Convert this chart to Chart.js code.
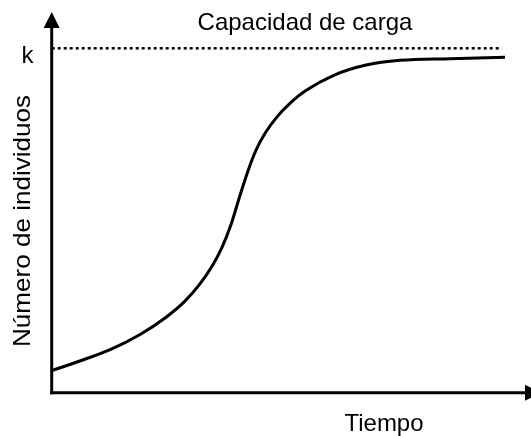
<!DOCTYPE html>
<html>
<head>
<meta charset="utf-8">
<script src="https://cdn.jsdelivr.net/npm/chart.js@4.4.1/dist/chart.umd.min.js"></script>
<style>
  body { margin: 0; background: #fff; }
  #wrap { width: 531px; height: 436px; }
</style>
</head>
<body>
<div id="wrap"><canvas id="myChart"></canvas></div>
<script>
// curva logistica (tiempo 0..10, individuos 0..100, k = 100)
const tiempo = [0, 0.62, 1.29, 1.95, 2.50, 2.94, 3.27, 3.54, 3.76, 3.96, 4.15, 4.33, 4.51, 4.71, 4.97, 5.26, 5.59, 6.21, 6.96, 7.68, 8.79, 10];
const individuos = [6.4, 9.2, 12.5, 16.9, 21.7, 26.6, 31.6, 36.8, 42.3, 49.0, 57.1, 64.4, 70.5, 75.4, 80.1, 84.1, 87.6, 92.1, 95.2, 96.5, 97.0, 97.4];
const capacidadT = [0, 9.93];
const capacidadK = [100, 100];

const tituloTexto = 'Capacidad de carga';
const ejeX = 'Tiempo';
const ejeY = 'Número de individuos';
const etiquetaK = 'k';

const FONT = '"Liberation Sans", Arial, sans-serif';

const ejes = {
    id: 'ejes',
    afterDraw: function (chart) {
        const ctx = chart.ctx;
        const x0 = chart.scales.x.getPixelForValue(0);
        const y0 = chart.scales.y.getPixelForValue(0);
        const yk = chart.scales.y.getPixelForValue(100);
        ctx.save();
        ctx.strokeStyle = '#000';
        ctx.fillStyle = '#000';
        ctx.lineWidth = 3;
        // eje y
        ctx.beginPath();
        ctx.moveTo(x0, y0 + 1.5);
        ctx.lineTo(x0, 27);
        ctx.stroke();
        ctx.beginPath();
        ctx.moveTo(x0 - 8, 28);
        ctx.lineTo(x0 + 8, 28);
        ctx.lineTo(x0, 12);
        ctx.closePath();
        ctx.fill();
        // eje x
        ctx.beginPath();
        ctx.moveTo(x0 - 1.5, y0);
        ctx.lineTo(526, y0);
        ctx.stroke();
        ctx.beginPath();
        ctx.moveTo(525, y0 - 8);
        ctx.lineTo(525, y0 + 8);
        ctx.lineTo(541, y0);
        ctx.closePath();
        ctx.fill();

        // textos
        ctx.font = '24px ' + FONT;
        ctx.textAlign = 'center';
        ctx.textBaseline = 'alphabetic';
        ctx.fillText(tituloTexto, 305, 30);
        ctx.fillText(etiquetaK, 27.5, yk + 15);
        ctx.fillText(ejeX, 384, 431);
        // titulo vertical, algo estirado como en el original
        ctx.translate(29.5, 221);
        ctx.rotate(-Math.PI / 2);
        const w = ctx.measureText(ejeY).width;
        ctx.scale(252 / w, 1);
        ctx.fillText(ejeY, 0, 0);
        ctx.restore();
    }
};

const ctx = document.getElementById('myChart').getContext('2d');
const myChart = new Chart(ctx, {
    type: 'line',
    data: {
        datasets: [{
            label: 'individuos',
            data: tiempo.map((t, i) => ({ x: t, y: individuos[i] })),
            borderColor: '#000',
            borderWidth: 3,
            pointRadius: 0,
            cubicInterpolationMode: 'monotone',
            clip: false
        }, {
            label: 'capacidad de carga',
            data: capacidadT.map((t, i) => ({ x: t, y: capacidadK[i] })),
            borderColor: '#000',
            borderWidth: 2.5,
            borderDash: [3, 3],
            pointRadius: 0,
            clip: false
        }]
    },
    options: {
        responsive: true,
        maintainAspectRatio: false,
        animation: false,
        layout: {
            padding: { left: 51.7, right: 26, top: 48.3, bottom: 43.3 }
        },
        plugins: {
            legend: { display: false },
            tooltip: { enabled: false }
        },
        scales: {
            x: { type: 'linear', min: 0, max: 10, display: false },
            y: { min: 0, max: 100, display: false }
        }
    },
    plugins: [ejes]
});
</script>
</body>
</html>
